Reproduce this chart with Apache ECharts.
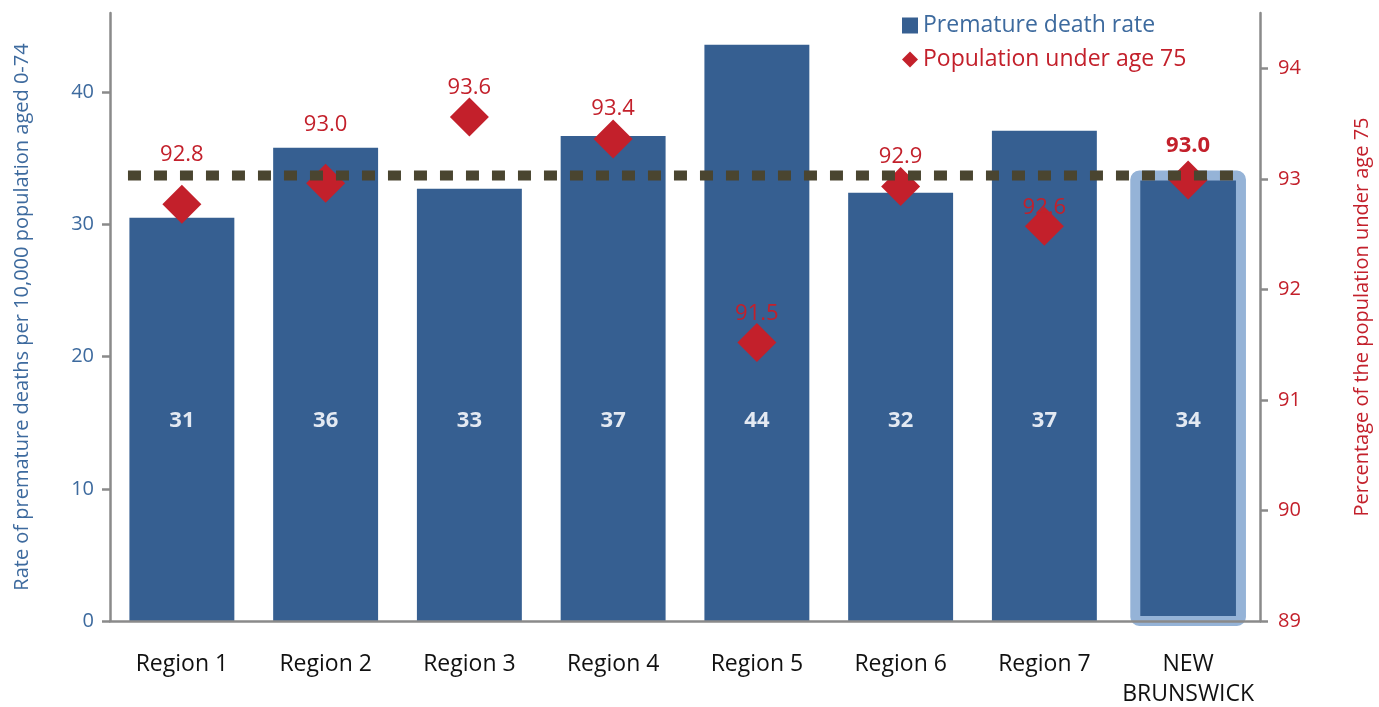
<!DOCTYPE html>
<html><head><meta charset="utf-8">
<script src="https://cdn.jsdelivr.net/npm/echarts@6/dist/echarts.min.js"></script>
<style>html,body{margin:0;padding:0;background:#fff}#c{width:1379px;height:707px}</style>
</head><body><div id="c"></div>
<script>
const categories = ['Region 1','Region 2','Region 3','Region 4','Region 5','Region 6','Region 7','NEW\nBRUNSWICK'];
const deathRate = [30.5, 35.8, 32.7, 36.7, 43.6, 32.4, 37.1, 33.7];
const deathRateLabels = ['31','36','33','37','44','32','37','34'];
const popUnder75 = [92.77, 92.96, 93.56, 93.36, 91.52, 92.93, 92.57, 92.99];
const popLabelShift = [50, 59, 29, 30, 29, 30, 19, 34];
const provinceAverage = 93.03;
const leftTicks = [0, 10, 20, 30, 40];
const rightTicks = [89, 90, 91, 92, 93, 94];

const FONT = '"Open Sans", "Noto Sans", sans-serif';
const BLUE = '#365f91', RED = '#c3202b', BLUE_TXT = '#3d6a9e', GREY = '#8a8a8a';
const last = categories.length - 1;

const barData = deathRate.map((v, i) => {
  const d = {value: v, label: {formatter: deathRateLabels[i]}};
  if (i === last) d.itemStyle = {color: 'rgba(0,0,0,0)'};
  return d;
});
const highlightData = [[last, deathRate[last]]];
const diamondData = popUnder75.map((v, i) => ({
  value: v,
  label: {offset: [0, -popLabelShift[i]], fontWeight: i === last ? 'bold' : 'normal'}
}));

const chart = echarts.init(document.getElementById('c'));
chart.setOption({
  animation: false,
  textStyle: {fontFamily: FONT},
  grid: {left: 110, right: 119, top: 13, bottom: 86, outerBoundsMode: 'none', containLabel: false},
  legend: {
    orient: 'vertical', left: 897, top: 9, itemGap: 11, itemWidth: 16, itemHeight: 16,
    textStyle: {fontSize: 23, fontFamily: FONT},
    data: [
      {name: 'Premature death rate', icon: 'rect', textStyle: {color: BLUE_TXT}},
      {name: 'Population under age 75', icon: 'diamond', textStyle: {color: RED}}
    ]
  },
  xAxis: [{
    type: 'category', data: categories, boundaryGap: true,
    axisLine: {lineStyle: {color: GREY, width: 2.5}},
    axisTick: {length: 9, interval: 0, lineStyle: {color: GREY, width: 2.5}},
    axisLabel: {color: '#111', fontSize: 23, margin: 28, lineHeight: 30, interval: 0, fontFamily: FONT},
    z: 5
  }, {
    type: 'value', min: -0.5, max: 7.5, show: false
  }],
  yAxis: [{
    type: 'value', min: 0, max: 46, interval: 10,
    name: 'Rate of premature deaths per 10,000 population aged 0-74',
    nameLocation: 'middle', nameGap: 78,
    nameTextStyle: {color: BLUE_TXT, fontSize: 20, fontFamily: FONT},
    axisLine: {show: true, onZero: false, lineStyle: {color: GREY, width: 2.5}},
    axisTick: {show: true, length: 8, customValues: leftTicks, lineStyle: {color: GREY, width: 2.5}},
    axisLabel: {color: BLUE_TXT, fontSize: 20, margin: 16, customValues: leftTicks, fontFamily: FONT},
    splitLine: {show: false}
  }, {
    type: 'value', min: 89, max: 94.5, interval: 0.5, position: 'right',
    name: 'Percentage of the population under age 75',
    nameLocation: 'middle', nameGap: 92,
    nameTextStyle: {color: RED, fontSize: 20, fontFamily: FONT},
    axisLine: {show: true, onZero: false, lineStyle: {color: GREY, width: 2.5}},
    axisTick: {show: true, length: 8, customValues: rightTicks, lineStyle: {color: GREY, width: 2.5}},
    axisLabel: {color: RED, fontSize: 20, margin: 18, customValues: rightTicks, fontFamily: FONT},
    splitLine: {show: false}
  }],
  series: [{
    name: 'NB highlight', type: 'custom', data: highlightData, z: 1, silent: true,
    renderItem: (params, api) => {
      const idx = api.value(0), v = api.value(1);
      const top = api.coord([idx, v]);
      const base = api.coord([idx, 0]);
      const w = api.size([1, 0])[0] * 0.735;
      return {
        type: 'rect',
        shape: {x: top[0] - w / 2, y: top[1], width: w, height: base[1] - top[1], r: 4},
        style: {fill: BLUE, stroke: '#95b3d7', lineWidth: 10}
      };
    }
  }, {
    name: 'Premature death rate', type: 'bar', barWidth: '73%', data: barData,
    itemStyle: {color: BLUE},
    label: {show: true, position: 'insideBottom', distance: 189, color: '#e3e9f2', fontSize: 22, fontWeight: 'bold', fontFamily: FONT},
    z: 2
  }, {
    name: 'Population under age 75', type: 'scatter', yAxisIndex: 1, data: diamondData,
    symbol: 'diamond', symbolSize: 39, itemStyle: {color: RED, opacity: 1},
    label: {show: true, position: 'inside', color: RED, fontSize: 22, fontFamily: FONT,
      formatter: p => p.value.toFixed(1)},
    z: 3
  }, {
    name: 'Provincial level', type: 'line', xAxisIndex: 1, yAxisIndex: 1,
    data: [[-0.375, provinceAverage], [last + 0.375, provinceAverage]],
    symbol: 'none', lineStyle: {color: '#4a4530', width: 10, type: [13, 13], cap: 'butt'},
    z: 4, silent: true
  }]
});
</script></body></html>
